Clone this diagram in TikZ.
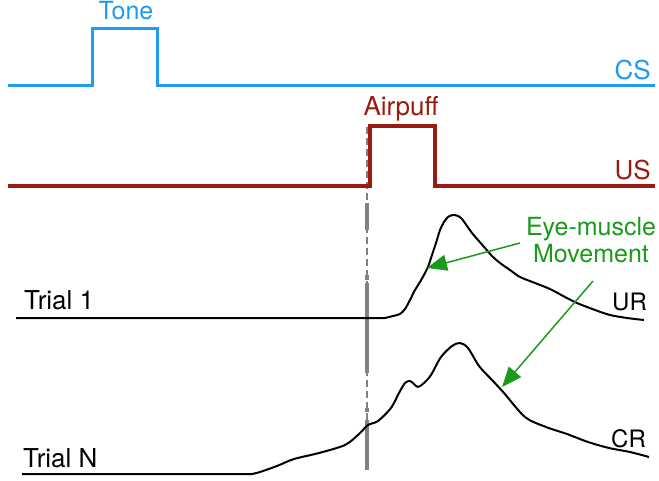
\documentclass[tikz,border=0pt]{standalone}
\usepackage{fontspec}
\setmainfont{TeX Gyre Heros}
\usetikzlibrary{arrows.meta}
\definecolor{csblue}{HTML}{1E9BF0}
\definecolor{usred}{HTML}{9B1A10}
\definecolor{emgreen}{HTML}{1A9A1A}
\definecolor{bargray}{HTML}{808080}
\tikzset{
  lbl/.style={inner sep=0pt, font=\fontsize{26}{28}\selectfont},
  sublbl/.style={inner sep=0pt, font=\fontsize{24}{26}\selectfont},
  cssig/.style={csblue, line width=3pt, line join=miter},
  ussig/.style={usred, line width=3.5pt, line join=miter},
  trace/.style={black, line width=2pt, line join=round},
  thinbar/.style={bargray, line width=1.5pt, dash pattern=on 7pt off 4pt},
  thickbar/.style={bargray, line width=3.5pt},
  greenarrow/.style={emgreen, line width=1.5pt, -{Triangle[length=20pt,width=16pt]}}
}
\begin{document}
\begin{tikzpicture}[x=1pt,y=-1pt]
\useasboundingbox (0,0) rectangle (659,481);
% CS
\draw[cssig] (8,86) -- (92,86) -- (92,29) -- (157,29) -- (157,86) -- (655,86);
\node[lbl, font=\fontsize{25}{28}\selectfont, text=csblue, anchor=base] (tone) at (126,20) {Tone};
\node[lbl, text=csblue, anchor=base east] (cs) at (651,80) {CS};
% vertical marker
\coordinate (vtop) at (367,127);
\coordinate (vbot) at (367,470);
\draw[thinbar] (vtop) -- (vbot);
\draw[thickbar] (367,203) -- (367,230);
\draw[thickbar] (367,275) -- (367,280);
\draw[thickbar] (367,283) -- (367,373);
\draw[thickbar] (367,408) -- (367,412);
\draw[thickbar] (367,420) -- (vbot);
% US
\draw[ussig] (8,186) -- (370,186) -- (370,126) -- (435,126) -- (435,186) -- (655,186);
\node[lbl, text=usred, anchor=base] (airpuff) at (401,116) {Airpuff};
\node[lbl, text=usred, anchor=base east] (us) at (651,180) {US};
% Trial 1
\draw[trace] (16,318) -- (385,318) plot[smooth, tension=0.5] coordinates {
 (385,318) (393,316) (400,314) (405,309) (410,300) (415,290) (420,282) (425,273)
 (428,267) (432,255) (436,243) (440,230) (444,222) (448,217) (453,215) (458,216)
 (462,219) (467,226) (472,233) (478,240) (485,248) (492,256) (500,263) (510,270)
 (520,277) (535,283) (550,289) (565,297) (577,303) (595,310) (610,315) (627,318) (644,320)};
\node[lbl, anchor=base west] (trial1) at (24,309) {Trial 1};
\node[sublbl, anchor=base west] (ur) at (612,310) {UR};
% Trial N
\draw[trace] (22,474) -- (252,474) plot[smooth, tension=0.5] coordinates {
 (252,474) (260,472) (277,466) (294,459) (319,453) (345,445) (359,434) (368,425)
 (378,421) (391,408) (399,393) (405,383) (410,381) (414,384) (418,387) (424,383)
 (431,375) (441,357) (452,346) (460,343) (468,348) (479,366) (492,380) (504,393)
 (525,417) (546,427) (567,434) (588,442) (609,448) (630,452) (649,457)};
\node[lbl, anchor=base west] (trialN) at (23,467) {Trial N};
\node[sublbl, anchor=base west] (cr) at (611,447) {CR};
% Eye-muscle movement
\node[inner sep=0pt, font=\fontsize{25}{27}\selectfont, text=emgreen, align=center, anchor=base] (emm) at (591,263) {Eye-muscle\\Movement};
\coordinate (a1s) at (520,243);
\coordinate (a1e) at (427,268);
\coordinate (a2s) at (593,281);
\coordinate (a2e) at (502,387);
\draw[greenarrow] (a1s) -- (a1e);
\draw[greenarrow] (a2s) -- (a2e);
\end{tikzpicture}
\end{document}
